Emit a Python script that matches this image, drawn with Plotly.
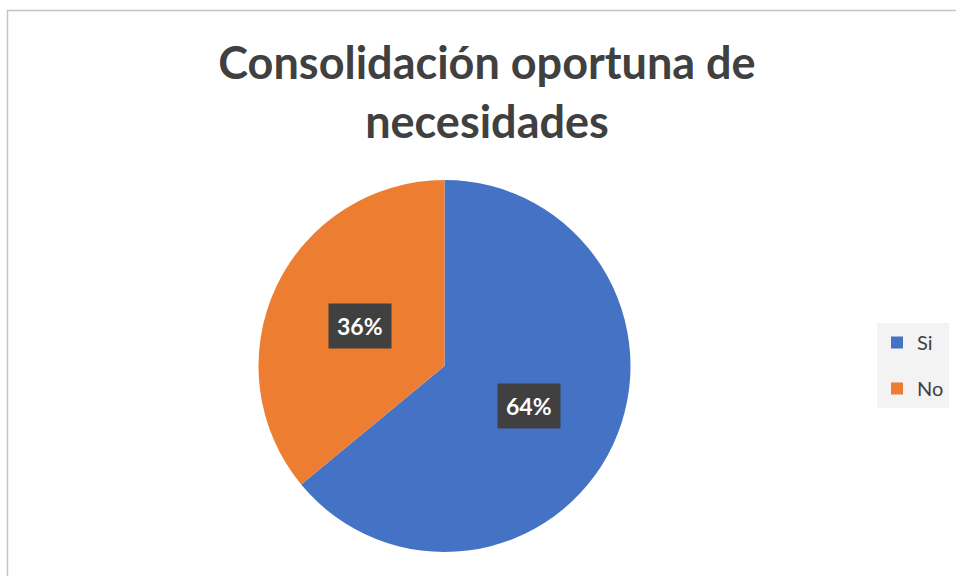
import math
import plotly.graph_objects as go

# Datos
etiquetas = ["Si", "No"]
valores = [64, 36]
colores = ["#4472C4", "#ED7D31"]
titulo = "Consolidación oportuna de<br>necesidades"

W, H = 956, 576
# pie placement (pixels)
cx, cy, r = 444.5, 366, 186

fig = go.Figure()

fig.add_trace(go.Pie(
    labels=etiquetas,
    values=valores,
    marker=dict(colors=colores, line=dict(color="white", width=0)),
    sort=False,
    direction="clockwise",
    rotation=0,
    textinfo="none",
    hoverinfo="label+percent",
    showlegend=False,
    domain=dict(x=[(cx - r) / W, (cx + r) / W],
                y=[(H - cy - r) / H, (H - cy + r) / H]),
))

# Legend entries as separate traces so the gap between them can be set
for lab, col in zip(etiquetas, colores):
    fig.add_trace(go.Scatter(
        x=[None], y=[None], mode="markers", name=lab, legendgroup=lab,
        marker=dict(symbol="square", size=12, color=col),
    ))

# Percent labels at the middle of each slice, half radius
total = sum(valores)
acum = 0
for v in valores:
    mid = (acum + v / 2) / total * 2 * math.pi
    acum += v
    px_ = cx + 0.5 * r * math.sin(mid)
    py_ = (H - cy) + 0.5 * r * math.cos(mid)
    fig.add_annotation(
        x=px_ / W, y=py_ / H, xref="paper", yref="paper",
        xanchor="center", yanchor="middle",
        text="<b>%d%%</b>" % round(v / total * 100),
        showarrow=False,
        font=dict(family="Lato", size=23, color="white"),
        bgcolor="#404040", borderpad=8,
    )

fig.update_layout(
    width=W, height=H,
    margin=dict(l=0, r=0, t=0, b=0),
    paper_bgcolor="white",
    plot_bgcolor="white",
    title=dict(
        text="<b>" + titulo + "</b>",
        x=487 / W, xanchor="center",
        y=1 - 79 / H, yanchor="middle",
        font=dict(family="Lato", size=45, color="#404040"),
    ),
    xaxis=dict(visible=False),
    yaxis=dict(visible=False),
    legend=dict(
        x=877 / W, xanchor="left",
        y=1 - 323 / H, yanchor="top",
        bgcolor="#f3f3f3",
        font=dict(family="Lato", size=20, color="#404040"),
        tracegroupgap=17,
        itemwidth=30,
    ),
    shapes=[dict(
        type="rect", xref="paper", yref="paper",
        x0=7.5 / W, x1=1.02, y0=-0.02, y1=1 - 10.5 / H,
        line=dict(color="#c4c4c4", width=1.5),
    )],
)

fig.write_html(
    "out.html",
    config={"displayModeBar": False},
    post_script="document.body.style.margin='0px';document.body.style.overflow='hidden';",
)
